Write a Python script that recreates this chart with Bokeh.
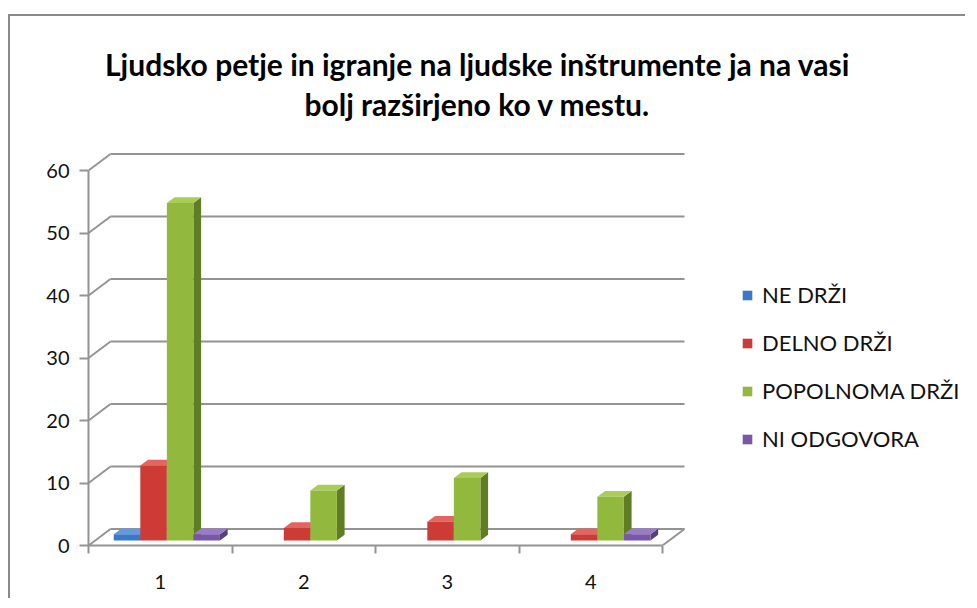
from bokeh.plotting import figure
from bokeh.models import Range1d, FixedTicker, Label, Legend, LegendItem, ColumnDataSource
from bokeh.embed import file_html
from bokeh.resources import INLINE

# ---------------- data ----------------
categories = [1, 2, 3, 4]
category_labels = ["1", "2", "3", "4"]
series_names = ["NE DRŽI", "DELNO DRŽI", "POPOLNOMA DRŽI", "NI ODGOVORA"]
ne_drzi = [1, 0, 0, 0]
delno_drzi = [12, 2, 3, 1]
popolnoma_drzi = [54, 8, 10, 7]
ni_odgovora = [1, 0, 0, 1]
y_ticks = [0, 10, 20, 30, 40, 50, 60]
title_line1 = "Ljudsko petje in igranje na ljudske inštrumente ja na vasi"
title_line2 = "bolj razširjeno ko v mestu."

series_values = [ne_drzi, delno_drzi, popolnoma_drzi, ni_odgovora]

# ---------------- style ----------------
FONT = "Lato"
front_colors = ["#3c78c8", "#cc3b36", "#92b83e", "#7a56aa"]
top_colors = ["#6399de", "#e2665f", "#aacd58", "#9a7bc6"]
side_colors = ["#2a5895", "#962b27", "#5f7d25", "#56407c"]
GRID = "#939393"

W, H = 957, 584
ML, MT, MB, MR = 78, 0, 55, 2
frame_w = W - ML - MR
frame_h = H - MT - MB
PX_PER_X = 143.5
PX_PER_Y = 6.25
x0 = 0.5
x1 = 4.5
DX = 22 / PX_PER_X          # depth offset (x units)
DY = 16.5 / PX_PER_Y        # depth offset (y units)
BW = 0.185                  # bar width
F0 = 0.30                   # bar front depth fraction
BD = 0.35                   # bar depth fraction

p = figure(width=W, height=H, output_backend="svg", toolbar_location=None,
           x_range=Range1d(x0, x0 + frame_w / PX_PER_X),
           y_range=Range1d(0, frame_h / PX_PER_Y),
           min_border_left=ML, min_border_top=MT, min_border_bottom=MB, min_border_right=MR,
           background_fill_color="white", border_fill_color="white")
p.outline_line_color = None
p.grid.visible = False
p.margin = (14, 0, 0, 8)
p.styles = {"border-left": "2px solid #8a8a8a", "border-top": "2px solid #8a8a8a"}

# ---------------- walls / floor ----------------
gx0 = [x0 + DX] * len(y_ticks)
gx1 = [x1 + DX] * len(y_ticks)
gy = [t + DY for t in y_ticks]
p.segment(x0=gx0, y0=gy, x1=gx1, y1=gy, line_color=GRID, line_width=2)
p.segment(x0=[x0] * len(y_ticks), y0=y_ticks, x1=gx0, y1=gy, line_color=GRID, line_width=2)
p.segment(x0=[x1], y0=[0], x1=[x1 + DX], y1=[DY], line_color=GRID, line_width=2)

# ---------------- bars ----------------
side_xs, side_ys, side_c = [], [], []
top_xs, top_ys, top_c = [], [], []
front_sources = []
for s, vals in enumerate(series_values):
    fl, fr, fb, ft = [], [], [], []
    for c, v in zip(categories, vals):
        if v <= 0:
            continue
        xl = c - 2 * BW + s * BW + F0 * DX
        xr = xl + BW
        yb = F0 * DY
        yt = v + F0 * DY
        ox, oy = BD * DX, BD * DY
        side_xs.append([xr, xr + ox, xr + ox, xr])
        side_ys.append([yb, yb + oy, yt + oy, yt])
        side_c.append(side_colors[s])
        top_xs.append([xl, xr, xr + ox, xl + ox])
        top_ys.append([yt, yt, yt + oy, yt + oy])
        top_c.append(top_colors[s])
        fl.append(xl); fr.append(xr); fb.append(yb); ft.append(yt)
    front_sources.append(ColumnDataSource(dict(left=fl, right=fr, bottom=fb, top=ft)))

p.patches(xs=side_xs, ys=side_ys, fill_color=side_c, line_color=None)
p.patches(xs=top_xs, ys=top_ys, fill_color=top_c, line_color=None)
front_renderers = []
for s, src in enumerate(front_sources):
    r = p.quad(left="left", right="right", bottom="bottom", top="top", source=src,
               fill_color=front_colors[s], line_color=None)
    front_renderers.append(r)

# ---------------- axes ----------------
xa = p.xaxis[0]
xa.ticker = FixedTicker(ticks=categories, minor_ticks=[c + 0.5 for c in [0] + categories])
xa.major_label_overrides = {c: l for c, l in zip(categories, category_labels)}
xa.bounds = (x0, x1)
xa.axis_line_color = GRID
xa.axis_line_width = 2
xa.major_tick_line_color = None
xa.major_tick_out = 0
xa.major_tick_in = 0
xa.minor_tick_line_color = GRID
xa.minor_tick_line_width = 2
xa.minor_tick_out = 8
xa.minor_tick_in = 0
xa.major_label_standoff = 21
xa.major_label_text_font = FONT
xa.major_label_text_font_size = "20px"
xa.major_label_text_color = "#111111"

ya = p.yaxis[0]
ya.ticker = FixedTicker(ticks=y_ticks, minor_ticks=[])
ya.bounds = (0, 60)
ya.axis_line_color = GRID
ya.axis_line_width = 2
ya.major_tick_line_color = GRID
ya.major_tick_line_width = 2
ya.major_tick_out = 9
ya.major_tick_in = 0
ya.minor_tick_line_color = None
ya.major_label_standoff = 10
ya.major_label_text_font = FONT
ya.major_label_text_font_size = "20px"
ya.major_label_text_color = "#111111"

# ---------------- title ----------------
for txt, yy in [(title_line1, 482), (title_line2, 442)]:
    p.add_layout(Label(x=389, y=yy, x_units="screen", y_units="screen", text=txt,
                       text_align="center", text_baseline="alphabetic",
                       text_font=FONT, text_font_style="bold",
                       text_font_size="30px", text_color="#000000"))

# ---------------- legend ----------------
legend = Legend(items=[LegendItem(label=n, renderers=[r]) for n, r in zip(series_names, front_renderers)],
                location=(653, 93), orientation="vertical",
                glyph_width=12, glyph_height=12, label_height=24, label_standoff=9,
                spacing=21, padding=0, margin=0, border_line_color=None,
                background_fill_alpha=0,
                label_text_font=FONT, label_text_font_size="22px", label_text_color="#111111")
p.add_layout(legend)

open("out.html", "w").write(file_html(p, INLINE))
